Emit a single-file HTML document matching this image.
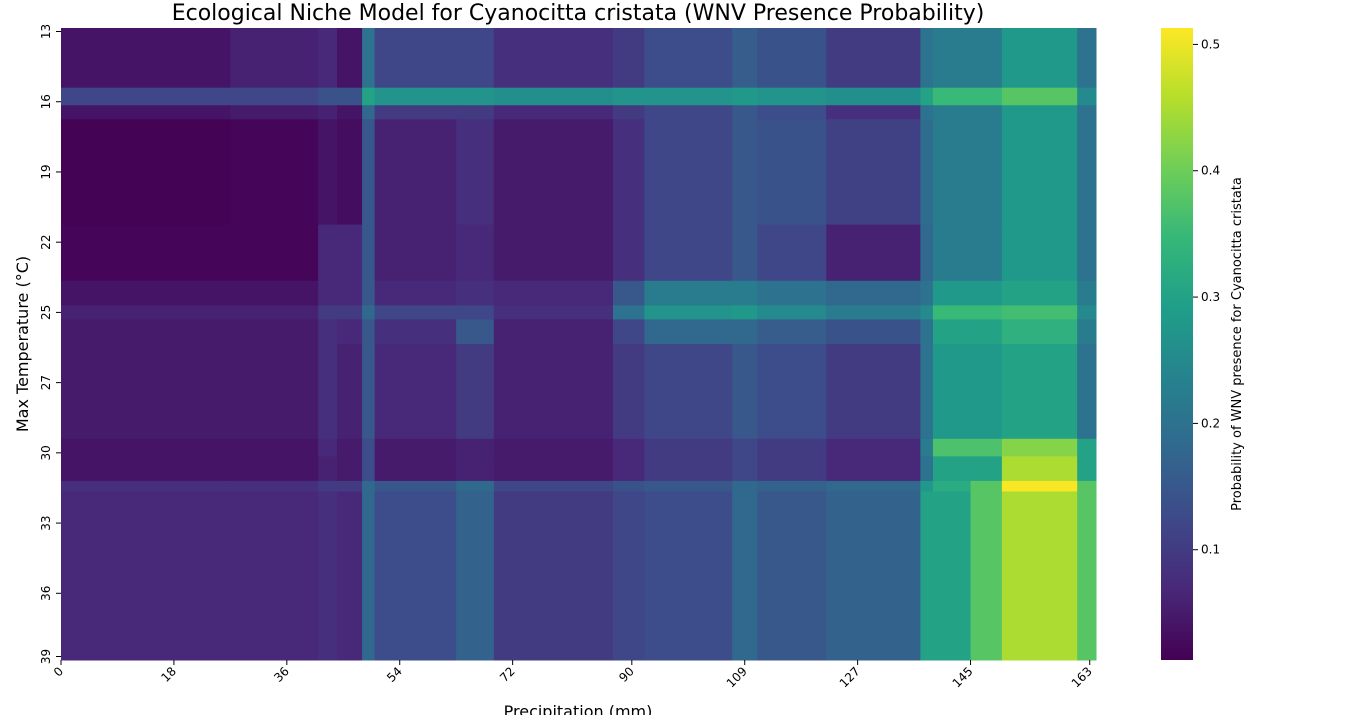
<!DOCTYPE html>
<html><head><meta charset="utf-8"><style>
body{margin:0;background:#fff;font-family:"Liberation Sans","DejaVu Sans",sans-serif;}
svg{display:block}
</style></head><body>
<svg id="chart" width="1370" height="715" viewBox="0 0 1370 715" xmlns="http://www.w3.org/2000/svg" font-family="DejaVu Sans, Liberation Sans, sans-serif">
<text x="578" y="20" font-size="22" text-anchor="middle" fill="#000">Ecological Niche Model for Cyanocitta cristata (WNV Presence Probability)</text>
<g id="cells"></g>
<g id="xaxis"></g>
<g id="yaxis"></g>
<text x="578" y="717" font-size="16" text-anchor="middle">Precipitation (mm)</text>
<text transform="translate(28,344) rotate(-90)" font-size="16" text-anchor="middle">Max Temperature (°C)</text>
<defs><linearGradient id="cbg" x1="0" y1="1" x2="0" y2="0"></linearGradient></defs>
<rect x="1161" y="28" width="32" height="632" fill="url(#cbg)"/>
<g id="cbaxis"></g>
<text transform="translate(1241,344) rotate(-90)" font-size="13" text-anchor="middle">Probability of WNV presence for Cyanocitta cristata</text>
</svg>
<script>
const colEdges=[0,27,41,44,48,50,63,69,88,93,107,111,122,137,139,145,150,162,165];
const rowEdges=[0,8.5,11,13,28,36,39.5,41.5,45,58.5,61,64.5,66,90];
const row0=[.04,.06,.07,.04,.2,.12,.12,.08,.1,.13,.16,.14,.1,.2,.22,.22,.28,.2];
const row1=[.12,.12,.14,.14,.3,.27,.27,.26,.27,.27,.28,.27,.26,.3,.35,.35,.38,.25];
const row2=[.04,.05,.06,.04,.18,.1,.1,.07,.1,.12,.15,.13,.08,.2,.22,.22,.28,.2];
const row3=[.015,.02,.04,.03,.15,.06,.08,.05,.08,.12,.15,.14,.11,.19,.22,.22,.28,.2];
const row4=[.02,.02,.07,.07,.15,.06,.07,.05,.08,.12,.15,.12,.06,.18,.22,.22,.28,.2];
const row5=[.04,.04,.07,.07,.15,.07,.08,.07,.15,.22,.22,.2,.18,.2,.28,.28,.3,.22];
const row6=[.06,.06,.1,.1,.18,.12,.12,.08,.2,.27,.28,.25,.22,.25,.35,.35,.36,.25];
const row7=[.05,.05,.08,.07,.15,.08,.15,.06,.12,.18,.18,.16,.14,.2,.3,.3,.33,.22];
const row8=[.05,.05,.08,.06,.15,.07,.1,.06,.1,.12,.15,.13,.1,.2,.28,.28,.3,.2];
const row9=[.04,.04,.07,.05,.13,.05,.06,.05,.07,.1,.12,.1,.07,.22,.37,.37,.42,.3];
const row10=[.04,.04,.06,.05,.13,.05,.06,.05,.07,.1,.12,.1,.07,.2,.3,.3,.45,.3];
const row11=[.08,.08,.1,.1,.18,.15,.18,.12,.14,.15,.18,.17,.18,.28,.32,.38,.51,.38];
const row12=[.07,.07,.08,.07,.18,.13,.17,.1,.12,.13,.18,.15,.17,.3,.3,.38,.45,.38];
const values=[row0,row1,row2,row3,row4,row5,row6,row7,row8,row9,row10,row11,row12];
const xTickIdx=[0,18,36,54,72,91,109,127,145,164];
const xTickLabels=["0","18","36","54","72","90","109","127","145","163"];
const yTickIdx=[0.5,10.5,20.5,30.5,40.5,50.5,60.5,70.5,80.5,89.5];
const yTickLabels=["13","16","19","22","25","27","30","33","36","39"];
const cbTicks=[0.1,0.2,0.3,0.4,0.5];
const vmin=0.0127,vmax=0.513;
const NS="http://www.w3.org/2000/svg";
const xS=i=>61+i*(1035/165);
const yS=i=>28+i*(632/90);
const cbS=v=>660-(v-vmin)/(vmax-vmin)*632;
const vir=["#440154","#482878","#3e4989","#31688e","#26828e","#1f9e89","#35b779","#6ece58","#b5de2b","#fde725"];
function hx(h){return [1,3,5].map(k=>parseInt(h.substr(k,2),16));}
function color(v){let t=Math.max(0,Math.min(1,(v-vmin)/(vmax-vmin)))*(vir.length-1);let i=Math.min(Math.floor(t),vir.length-2),f=t-i;let a=hx(vir[i]),b=hx(vir[i+1]);return "rgb("+a.map((c,k)=>Math.round(c+(b[k]-c)*f)).join(",")+")";}
function mk(tag,attrs,parent){const e=document.createElementNS(NS,tag);for(const k in attrs)e.setAttribute(k,attrs[k]);parent.appendChild(e);return e;}
const cells=document.getElementById('cells');
values.forEach((row,r)=>row.forEach((v,c)=>{
 const e=mk('rect',{x:xS(colEdges[c]),y:yS(rowEdges[r]),width:xS(colEdges[c+1])-xS(colEdges[c])+0.5,height:yS(rowEdges[r+1])-yS(rowEdges[r])+0.5,fill:color(v)},cells);
 
 
}));
const xa=document.getElementById('xaxis');
xTickIdx.forEach((t,i)=>{const x=xS(t);
 mk('line',{x1:x,x2:x,y1:660,y2:665,stroke:'#000'},xa);
 const tx=mk('text',{transform:`translate(${x+3},${672}) rotate(-45)`,'font-size':12,'text-anchor':'end'},xa);
 tx.textContent=xTickLabels[i];
 
 
});
const ya=document.getElementById('yaxis');
yTickIdx.forEach((t,i)=>{const y=yS(t);
 mk('line',{x1:56,x2:61,y1:y,y2:y,stroke:'#000'},ya);
 const tx=mk('text',{transform:`translate(50,${y}) rotate(-90)`,'font-size':12,'text-anchor':'middle'},ya);
 tx.textContent=yTickLabels[i];
 
 
});
const g=document.getElementById('cbg');
vir.forEach((c,i)=>mk('stop',{offset:(i/(vir.length-1)),'stop-color':c},g));
const cba=document.getElementById('cbaxis');
cbTicks.forEach(v=>{const y=cbS(v);
 mk('line',{x1:1193,x2:1198,y1:y,y2:y,stroke:'#000'},cba);
 const tx=mk('text',{x:1201,y:y+4,'font-size':12},cba);
 tx.textContent=v.toFixed(1);
 
 
});
</script>
</body></html>
